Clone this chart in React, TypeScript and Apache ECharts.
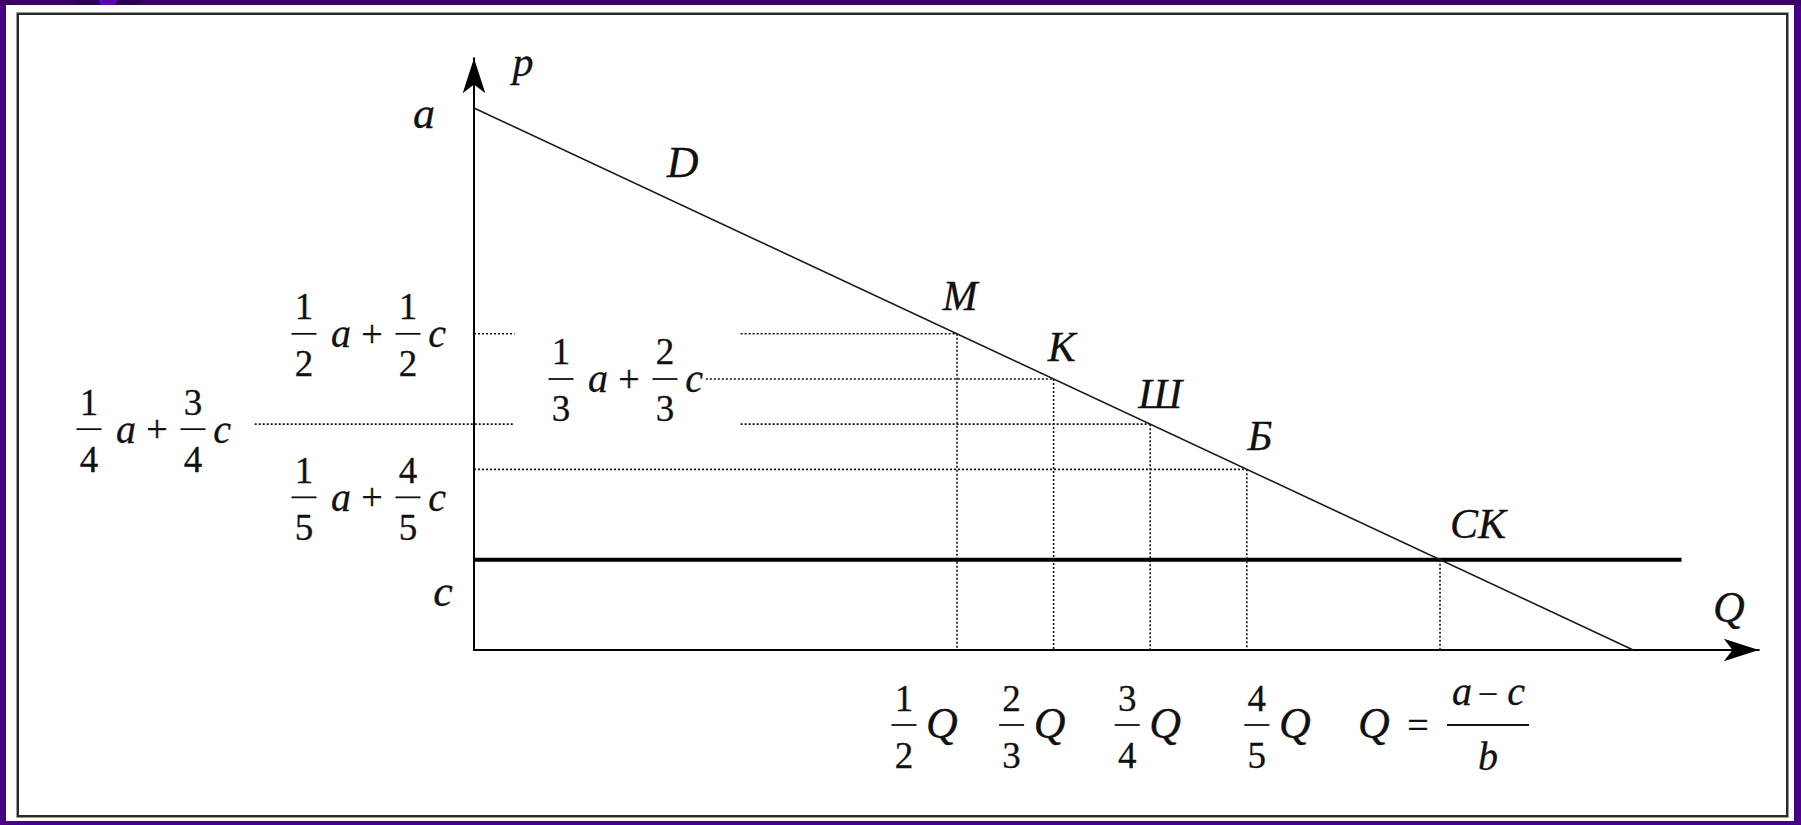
import { useEffect, useRef } from 'react';
import * as echarts from 'echarts';

// Linear demand p = a - b·Q with constant marginal cost c
const A = 120;
const C = 20;
const Q_COMPETITIVE = 100; // (a - c) / b
const DEMAND_Q = [0, 120];
const DEMAND_P = [120, 0];
const MC_Q = [0, 125];
const MC_P = [20, 20];

// Market outcomes on the demand line
const POINT_NAMES = ['М', 'К', 'Ш', 'Б', 'СК'];
const POINT_Q = [50, 60, 70, 80, 100];
const POINT_P = [70, 60, 50, 40, 20];

// Price tick labels: [num a, den a, num c, den c]
const PRICE_FRACTIONS = [
  ['1', '2', '1', '2'],
  ['1', '3', '2', '3'],
  ['1', '4', '3', '4'],
  ['1', '5', '4', '5'],
];
// Quantity tick labels: [num, den]
const QTY_FRACTIONS = [
  ['1', '2'],
  ['2', '3'],
  ['3', '4'],
  ['4', '5'],
];

const X_MAX = 133;
const Y_MAX = 131;

const INK = '#111';
const FAMILY = 'Liberation Serif, Times New Roman, serif';

// Pixel offsets of the annotations from their anchor values
const PRICE_LABEL_OFFSET = [[-170, 0], [87, 0], [-385, 5], [-170, 28]];
const QTY_LABEL_OFFSET = [[-53, 75], [-42, 75], [-23, 75], [10, 75]];
const POINT_LABEL_OFFSET = [[3, -38], [8, -32], [10, -30], [13, -33], [38, -36]];

// Horizontal dotted guides (pieces in Q units; null = run up to the point on D)
const PRICE_GUIDE_PIECES: [number, number | null][][] = [
  [[0, 4.2], [27.6, null]],
  [[24, null]],
  [[-22.7, 4.2], [27.6, null]],
  [[0, null]],
];

type Spec = {
  q: number;
  p: number;
  dx: number;
  dy: number;
  kind: 'letter' | 'price' | 'qty' | 'total';
  text?: string;
  size?: number;
  parts?: string[];
};

const LABEL_SPECS: Spec[] = [
  { q: 0, p: Y_MAX, dx: 49, dy: 4, kind: 'letter', text: 'p' },
  { q: X_MAX, p: 0, dx: -30, dy: -43, kind: 'letter', text: 'Q', size: 44 },
  { q: 0, p: A, dx: -50, dy: 6, kind: 'letter', text: 'a', size: 44 },
  { q: 0, p: C, dx: -31, dy: 32, kind: 'letter', text: 'c', size: 44 },
  { q: 22, p: A - 22, dx: -4, dy: -45, kind: 'letter', text: 'D', size: 44 },
  ...POINT_NAMES.map((name, i) => ({
    q: POINT_Q[i],
    p: POINT_P[i],
    dx: POINT_LABEL_OFFSET[i][0],
    dy: POINT_LABEL_OFFSET[i][1],
    kind: 'letter' as const,
    text: name,
  })),
  ...PRICE_FRACTIONS.map((parts, i) => ({
    q: 0,
    p: POINT_P[i],
    dx: PRICE_LABEL_OFFSET[i][0],
    dy: PRICE_LABEL_OFFSET[i][1],
    kind: 'price' as const,
    parts,
  })),
  ...QTY_FRACTIONS.map((parts, i) => ({
    q: POINT_Q[i],
    p: 0,
    dx: QTY_LABEL_OFFSET[i][0],
    dy: QTY_LABEL_OFFSET[i][1],
    kind: 'qty' as const,
    parts,
  })),
  { q: Q_COMPETITIVE, p: 0, dx: -68, dy: 75, kind: 'total' },
];

function txt(x: number, y: number, text: string, size: number, italic: boolean) {
  return {
    type: 'text',
    x,
    y,
    z: 10,
    silent: true,
    style: {
      text,
      fill: INK,
      stroke: INK,
      lineWidth: 0.3,
      font: `${italic ? 'italic' : 'normal'} normal ${size}px ${FAMILY}`,
      align: 'center',
      verticalAlign: 'middle',
      textAlign: 'center',
      textVerticalAlign: 'middle',
    },
  };
}

function bar(x: number, y: number, w: number) {
  return {
    type: 'line',
    z: 10,
    silent: true,
    shape: { x1: x - w / 2, y1: y, x2: x + w / 2, y2: y },
    style: { stroke: INK, lineWidth: 1.8 },
  };
}

function frac(x: number, y: number, num: string, den: string, w = 25) {
  return [txt(x, y - 27, num, 37, false), txt(x, y + 30, den, 37, false), bar(x, y, w)];
}

function buildLabel(s: Spec, x: number, y: number): any[] {
  switch (s.kind) {
    case 'letter':
      return [txt(x, y, s.text as string, s.size ?? 42, true)];
    case 'price': {
      const [n1, d1, n2, d2] = s.parts as string[];
      return [
        ...frac(x, y, n1, d1),
        txt(x + 37, y, 'a', 40, true),
        txt(x + 68, y, '+', 38, false),
        ...frac(x + 104, y, n2, d2),
        txt(x + 133, y, 'c', 40, true),
      ];
    }
    case 'qty': {
      const [n, d] = s.parts as string[];
      return [...frac(x, y, n, d), txt(x + 38, y - 2, 'Q', 44, true)];
    }
    case 'total': {
      const fx = x + 116;
      return [
        txt(x + 2, y - 2, 'Q', 44, true),
        txt(x + 46, y, '=', 38, false),
        txt(fx - 26, y - 34, 'a', 40, true),
        txt(fx, y - 31, '\u2212', 36, false),
        txt(fx + 28, y - 34, 'c', 40, true),
        bar(fx, y, 82),
        txt(fx, y + 31, 'b', 40, true),
      ];
    }
  }
  return [];
}

// Dotted guide segments [q1, p1, q2, p2]
const GUIDES: number[][] = [
  ...PRICE_GUIDE_PIECES.flatMap((pieces, i) =>
    pieces.map(([from, to]) => [from, POINT_P[i], to === null ? POINT_Q[i] : to, POINT_P[i]])
  ),
  ...POINT_Q.map((q, i) => [q, POINT_P[i], q, 0]),
];

const FRAME = [
  { type: 'rect', z: -20, silent: true, shape: { x: 0, y: 0, width: 1801, height: 6 }, style: { fill: '#3a0068' } },
  { type: 'ellipse', z: -19, silent: true, shape: { cx: 108, cy: 0, rx: 34, ry: 9 }, style: { fill: '#2c0052' } },
  { type: 'circle', z: -19, silent: true, shape: { cx: 108, cy: 0, r: 9 }, style: { fill: '#5c0aa6' } },
  { type: 'rect', z: -18, silent: true, shape: { x: 6, y: 5, width: 1788, height: 816 }, style: { fill: '#ffffff' } },
  {
    type: 'rect',
    z: -17,
    silent: true,
    shape: { x: 16.5, y: 12.5, width: 1772, height: 805 },
    style: { fill: 'none', stroke: '#9a9a9a', lineWidth: 1 },
  },
  {
    type: 'rect',
    z: -16,
    silent: true,
    shape: { x: 18, y: 14, width: 1769, height: 802 },
    style: { fill: 'none', stroke: '#2a2a2a', lineWidth: 2 },
  },
];

const axisCommon = {
  type: 'value',
  min: 0,
  axisLine: {
    show: true,
    symbol: ['none', 'arrow'],
    symbolSize: [17, 35],
    lineStyle: { color: '#000', width: 2 },
  },
  axisTick: { show: false },
  axisLabel: { show: false },
  splitLine: { show: false },
};

export default function App() {
  const ref = useRef<HTMLDivElement>(null);

  useEffect(() => {
    if (!ref.current) return;
    const chart = echarts.init(ref.current, null, { renderer: 'svg' });

    chart.setOption({
      animation: false,
      backgroundColor: '#470086',
      graphic: FRAME,
      grid: { left: 474, right: 42.2, top: 58.3, bottom: 175, containLabel: false },
      xAxis: { ...axisCommon, max: X_MAX },
      yAxis: { ...axisCommon, max: Y_MAX },
      series: [
        {
          name: 'guides',
          type: 'custom',
          silent: true,
          clip: false,
          data: GUIDES,
          renderItem: (_params: any, api: any) => {
            const p1 = api.coord([api.value(0), api.value(1)]);
            const p2 = api.coord([api.value(2), api.value(3)]);
            return {
              type: 'line',
              shape: { x1: p1[0], y1: p1[1], x2: p2[0], y2: p2[1] },
              style: { stroke: '#111', lineWidth: 1.6, lineDash: [2, 2] },
            };
          },
        },
        {
          name: 'MC',
          type: 'line',
          silent: true,
          symbol: 'none',
          data: MC_Q.map((q, i) => [q, MC_P[i]]),
          lineStyle: { color: '#000', width: 4 },
          z: 3,
        },
        {
          name: 'D',
          type: 'line',
          silent: true,
          symbol: 'none',
          data: DEMAND_Q.map((q, i) => [q, DEMAND_P[i]]),
          lineStyle: { color: '#1a1a1a', width: 1.6 },
          z: 4,
        },
      ],
    });

    // Annotations are placed through the grid's own value-to-pixel mapping
    const labels = LABEL_SPECS.flatMap((s) => {
      const pt = chart.convertToPixel({ gridIndex: 0 }, [s.q, s.p]) as number[];
      return buildLabel(s, pt[0] + s.dx, pt[1] + s.dy);
    });
    chart.setOption({ graphic: [...FRAME, ...labels] });

    return () => chart.dispose();
  }, []);

  return (
    <div
      ref={ref}
      style={{ position: 'fixed', left: 0, top: 0, width: 1801, height: 825 }}
    />
  );
}
